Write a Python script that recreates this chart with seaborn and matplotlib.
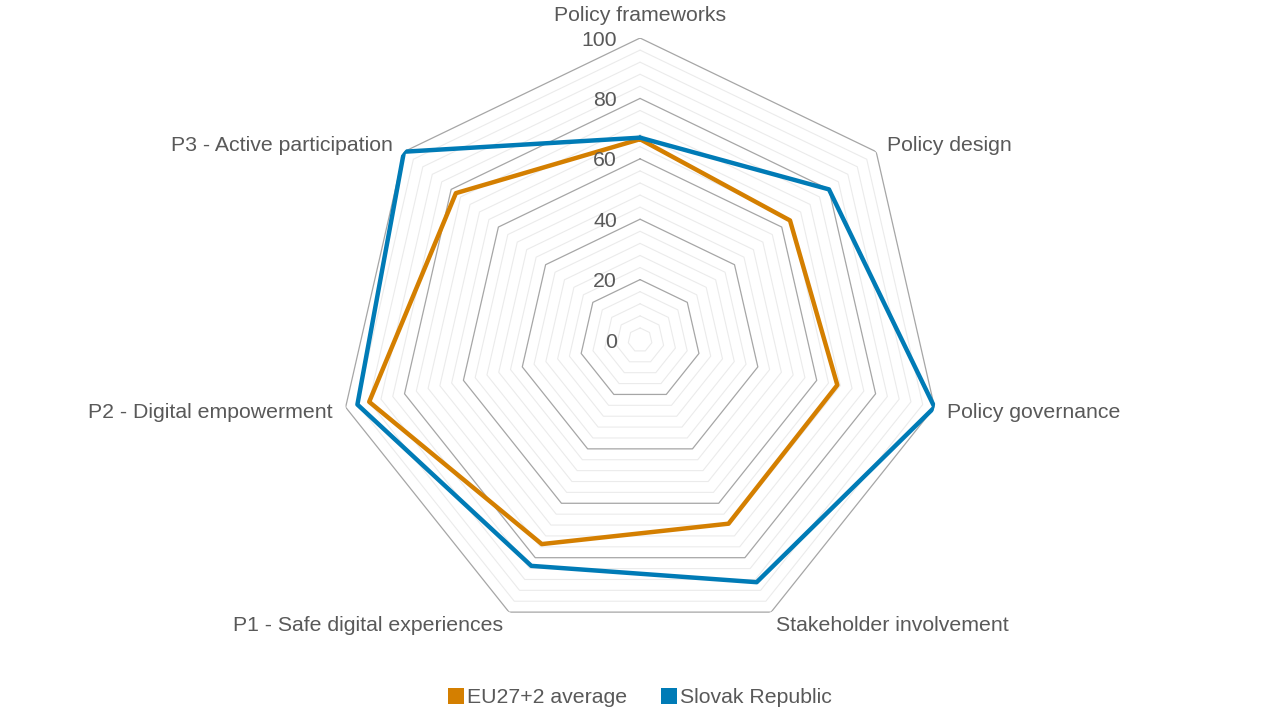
import numpy as np
import pandas as pd
import matplotlib.pyplot as plt
import seaborn as sns
from matplotlib.patches import Patch

# Radar categories (clockwise from the top)
categories = ["Policy frameworks", "Policy design", "Policy governance",
              "Stakeholder involvement", "P1 - Safe digital experiences",
              "P2 - Digital empowerment", "P3 - Active participation"]
eu_avg = [66.5, 63.5, 67, 67.5, 75, 92, 78]
slovak = [67, 80, 100, 89, 83, 96, 100]
series_names = ["EU27+2 average", "Slovak Republic"]
r_ticks = [0, 20, 40, 60, 80, 100]

colors = {"EU27+2 average": "#D47F00", "Slovak Republic": "#007BB6"}
text_color = "#595959"
fs = 15.3

sns.set_theme(style="white")
plt.rcParams["font.family"] = ["Liberation Sans", "DejaVu Sans"]

n = len(categories)
theta = np.linspace(0, 2 * np.pi, n, endpoint=False)
theta_closed = np.append(theta, 2 * np.pi)

rows = []
for name, vals in zip(series_names, [eu_avg, slovak]):
    closed = list(vals) + [vals[0]]
    for i, (t, v) in enumerate(zip(theta_closed, closed)):
        rows.append({"series": name, "order": i, "theta": t, "value": v})
df = pd.DataFrame(rows)

fig = plt.figure(figsize=(12.8, 7.2), dpi=100)
ax = fig.add_axes([0.2641, 0.1083, 0.4719, 0.8389], projection="polar")
ax.set_theta_zero_location("N")
ax.set_theta_direction(-1)
ax.set_ylim(0, 100)
ax.grid(False)
ax.spines["polar"].set_visible(False)
ax.set_xticks([])
ax.set_yticks([])
ax.set_facecolor("white")

# heptagon grid: minor every 4, major every 20
for r in range(4, 101, 4):
    major = r % 20 == 0
    ax.plot(theta_closed, [r] * (n + 1),
            color="#A6A6A6" if major else "#EBEBEB",
            lw=0.9 if major else 0.8, zorder=1)

sns.lineplot(data=df, x="theta", y="value", hue="series", palette=colors,
             sort=False, estimator=None, units="series", lw=3.2, ax=ax,
             legend=False, zorder=3)
ax.set_xlabel("")
ax.set_ylabel("")

# radial value labels
for r in r_ticks:
    ax.annotate(str(r), xy=(0, r), xytext=(-23, -2), textcoords="offset pixels",
                ha="right", va="center", fontsize=fs, color=text_color)

# category labels
offsets = [((0, 23), "center", "center"),
           ((11, 6), "left", "center"),
           ((13, -5), "left", "center"),
           ((5, -13), "left", "center"),
           ((-6, -13), "right", "center"),
           ((-13, -5), "right", "center"),
           ((-11, 6), "right", "center")]
for t, lab, (off, ha, va) in zip(theta, categories, offsets):
    ax.annotate(lab, xy=(t, 100), xytext=off, textcoords="offset pixels",
                ha=ha, va=va, fontsize=fs, color=text_color,
                annotation_clip=False)

handles = [Patch(facecolor=colors[s], edgecolor="none", label=s) for s in series_names]
leg = fig.legend(handles=handles, loc="center", bbox_to_anchor=(0.5, 0.031),
                 ncol=2, frameon=False, fontsize=fs, handlelength=0.75,
                 handleheight=0.75, handletextpad=0.15, columnspacing=1.6)
for txt in leg.get_texts():
    txt.set_color(text_color)

fig.savefig("out.png", dpi=100, facecolor="white")
